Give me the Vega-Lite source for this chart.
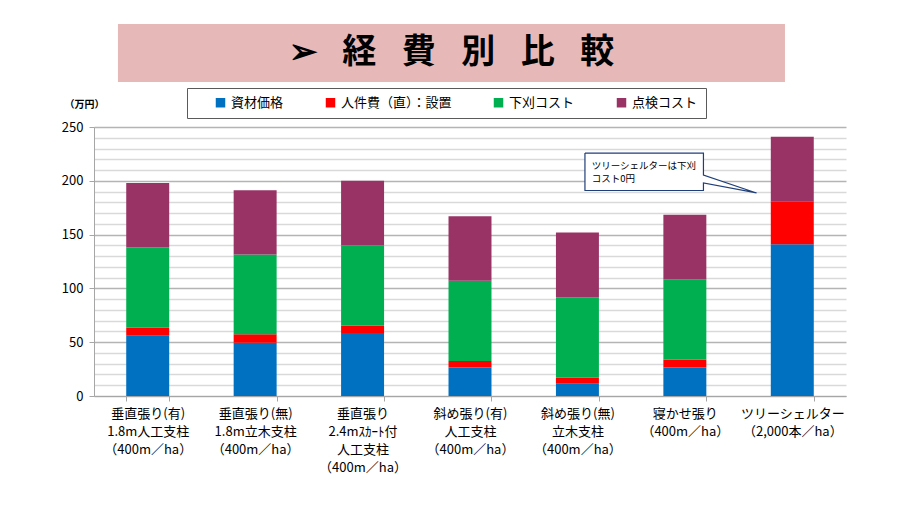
{
  "$schema": "https://vega.github.io/schema/vega-lite/v6.json",
  "background": "white",
  "autosize": {"type": "none"},
  "width": 752,
  "height": 269,
  "padding": {"left": 94, "top": 127, "right": 54, "bottom": 110},
  "config": {"view": {"stroke": null}, "font": "Noto Sans CJK JP"},
  "datasets": {
    "costs": [
      {"cat": "垂直張り(有)|1.8m人工支柱|（400m／ha）", "item": "資材価格", "ord": 1, "value": 56},
      {"cat": "垂直張り(有)|1.8m人工支柱|（400m／ha）", "item": "人件費（直）：設置", "ord": 2, "value": 7.5},
      {"cat": "垂直張り(有)|1.8m人工支柱|（400m／ha）", "item": "下刈コスト", "ord": 3, "value": 74.5},
      {"cat": "垂直張り(有)|1.8m人工支柱|（400m／ha）", "item": "点検コスト", "ord": 4, "value": 60},
      {"cat": "垂直張り(無)|1.8m立木支柱|（400m／ha）", "item": "資材価格", "ord": 1, "value": 49.5},
      {"cat": "垂直張り(無)|1.8m立木支柱|（400m／ha）", "item": "人件費（直）：設置", "ord": 2, "value": 8},
      {"cat": "垂直張り(無)|1.8m立木支柱|（400m／ha）", "item": "下刈コスト", "ord": 3, "value": 74},
      {"cat": "垂直張り(無)|1.8m立木支柱|（400m／ha）", "item": "点検コスト", "ord": 4, "value": 59.7},
      {"cat": "垂直張り|2.4mｽｶｰﾄ付|人工支柱|（400m／ha）", "item": "資材価格", "ord": 1, "value": 58.5},
      {"cat": "垂直張り|2.4mｽｶｰﾄ付|人工支柱|（400m／ha）", "item": "人件費（直）：設置", "ord": 2, "value": 7},
      {"cat": "垂直張り|2.4mｽｶｰﾄ付|人工支柱|（400m／ha）", "item": "下刈コスト", "ord": 3, "value": 74.5},
      {"cat": "垂直張り|2.4mｽｶｰﾄ付|人工支柱|（400m／ha）", "item": "点検コスト", "ord": 4, "value": 60},
      {"cat": "斜め張り(有)|人工支柱|（400m／ha）", "item": "資材価格", "ord": 1, "value": 26.5},
      {"cat": "斜め張り(有)|人工支柱|（400m／ha）", "item": "人件費（直）：設置", "ord": 2, "value": 6},
      {"cat": "斜め張り(有)|人工支柱|（400m／ha）", "item": "下刈コスト", "ord": 3, "value": 74.5},
      {"cat": "斜め張り(有)|人工支柱|（400m／ha）", "item": "点検コスト", "ord": 4, "value": 60},
      {"cat": "斜め張り(無)|立木支柱|（400m／ha）", "item": "資材価格", "ord": 1, "value": 11.5},
      {"cat": "斜め張り(無)|立木支柱|（400m／ha）", "item": "人件費（直）：設置", "ord": 2, "value": 5.5},
      {"cat": "斜め張り(無)|立木支柱|（400m／ha）", "item": "下刈コスト", "ord": 3, "value": 74.5},
      {"cat": "斜め張り(無)|立木支柱|（400m／ha）", "item": "点検コスト", "ord": 4, "value": 60.5},
      {"cat": "寝かせ張り|（400m／ha）", "item": "資材価格", "ord": 1, "value": 26.5},
      {"cat": "寝かせ張り|（400m／ha）", "item": "人件費（直）：設置", "ord": 2, "value": 7.5},
      {"cat": "寝かせ張り|（400m／ha）", "item": "下刈コスト", "ord": 3, "value": 74.5},
      {"cat": "寝かせ張り|（400m／ha）", "item": "点検コスト", "ord": 4, "value": 60},
      {"cat": "ツリーシェルター|（2,000本／ha）", "item": "資材価格", "ord": 1, "value": 141},
      {"cat": "ツリーシェルター|（2,000本／ha）", "item": "人件費（直）：設置", "ord": 2, "value": 40},
      {"cat": "ツリーシェルター|（2,000本／ha）", "item": "下刈コスト", "ord": 3, "value": 0},
      {"cat": "ツリーシェルター|（2,000本／ha）", "item": "点検コスト", "ord": 4, "value": 60}
    ],
    "banner": [
      {"x0": 0.223, "x1": 6.432, "y0": 291.8, "y1": 345.7, "xc": 3.328, "yc": 318.8, "t": "➢\u2002\u2005経\u2002\u2005費\u2002\u2005別\u2002\u2005比\u2002\u2005較"}
    ],
    "callout": [
      {"o": 1, "x": 4.57, "y": 225.8},
      {"o": 2, "x": 5.673, "y": 225.8},
      {"o": 3, "x": 5.673, "y": 205.4},
      {"o": 4, "x": 6.167, "y": 188.7},
      {"o": 5, "x": 5.673, "y": 198.0},
      {"o": 6, "x": 5.673, "y": 191.0},
      {"o": 7, "x": 4.57, "y": 191.0},
      {"o": 8, "x": 4.57, "y": 225.8}
    ],
    "note": [
      {"x": 4.633, "y": 214, "t": "ツリーシェルターは下刈"},
      {"x": 4.633, "y": 201.7, "t": "コスト0円"}
    ]
  },
  "resolve": {"scale": {"x": "independent"}},
  "layer": [
    {
      "data": {"name": "costs"},
      "mark": {"type": "bar"},
      "encoding": {
        "x": {
          "field": "cat", "type": "nominal", "sort": null,
          "scale": {"paddingInner": 0.6, "paddingOuter": 0.3},
          "axis": {
            "title": null, "labelExpr": "split(datum.label, '|')", "labelAngle": 0,
            "labelFontSize": 13, "labelLineHeight": 18, "labelColor": "black",
            "labelPadding": 6, "labelLimit": 0, "domainColor": "#a6a6a6",
            "tickColor": "#a6a6a6", "tickBand": "extent", "tickSize": 5, "grid": false
          }
        },
        "y": {
          "field": "value", "type": "quantitative", "stack": "zero",
          "scale": {"domain": [0, 250], "nice": false},
          "axis": {
            "title": "（万円）", "titleAngle": 0, "titleX": -10, "titleY": -23,
            "titleAlign": "center", "titleBaseline": "middle", "titleFontSize": 10,
            "titleFontWeight": "bold", "titleColor": "black",
            "values": [0, 10, 20, 30, 40, 50, 60, 70, 80, 90, 100, 110, 120, 130, 140, 150, 160, 170, 180, 190, 200, 210, 220, 230, 240, 250],
            "tickCount": 30,
            "labelExpr": "datum.value % 50 == 0 ? datum.label : ''",
            "labelOverlap": false,
            "labelFontSize": 13, "labelColor": "black", "labelPadding": 6,
            "domainColor": "#a6a6a6", "tickSize": 5,
            "tickColor": {"condition": {"test": "datum.value % 50 == 0", "value": "#a6a6a6"}, "value": "transparent"},
            "gridColor": {"condition": {"test": "datum.value % 50 == 0", "value": "#b4b4b4"}, "value": "#d9d9d9"},
            "gridWidth": 1.3
          }
        },
        "color": {
          "field": "item", "type": "nominal",
          "scale": {"domain": ["資材価格", "人件費（直）：設置", "下刈コスト", "点検コスト"], "range": ["#0070C0", "#FF0000", "#00B050", "#993366"]},
          "legend": {
            "orient": "none", "legendX": 93, "legendY": -39, "direction": "horizontal", "columns": 4,
            "strokeColor": "#5a5a5a", "fillColor": "white", "padding": 8,
            "symbolType": "square", "symbolSize": 90, "symbolStrokeWidth": 0,
            "labelFontSize": 13, "labelColor": "black", "labelLimit": 0, "columnPadding": 40,
            "labelExpr": "datum.label == '点検コスト' ? datum.label + '\u3000\u3000' : datum.label",
            "title": "\u3000", "titleOrient": "left", "titleFontSize": 13, "titlePadding": 19
          }
        },
        "order": {"field": "ord", "type": "quantitative"}
      }
    },
    {
      "data": {"name": "banner"},
      "mark": {"type": "rect", "fill": "#E6B9B8", "clip": false},
      "encoding": {
        "x": {"field": "x0", "type": "quantitative", "scale": {"domain": [0, 7], "nice": false, "zero": false}, "axis": null},
        "x2": {"field": "x1"},
        "y": {"field": "y0", "type": "quantitative"},
        "y2": {"field": "y1"}
      }
    },
    {
      "data": {"name": "banner"},
      "mark": {"type": "text", "fontSize": 34, "fontWeight": "bold", "color": "black", "baseline": "middle", "align": "center", "clip": false},
      "encoding": {
        "x": {"field": "xc", "type": "quantitative", "scale": {"domain": [0, 7], "nice": false, "zero": false}, "axis": null},
        "y": {"field": "yc", "type": "quantitative"},
        "text": {"field": "t"}
      }
    },
    {
      "data": {"name": "callout"},
      "mark": {"type": "line", "stroke": "#1F3F7A", "strokeWidth": 1.2, "fill": "white", "interpolate": "linear"},
      "encoding": {
        "x": {"field": "x", "type": "quantitative", "scale": {"domain": [0, 7], "nice": false, "zero": false}, "axis": null},
        "y": {"field": "y", "type": "quantitative"},
        "order": {"field": "o", "type": "quantitative"}
      }
    },
    {
      "data": {"name": "note"},
      "mark": {"type": "text", "align": "left", "baseline": "middle", "fontSize": 9.5, "color": "black"},
      "encoding": {
        "x": {"field": "x", "type": "quantitative", "scale": {"domain": [0, 7], "nice": false, "zero": false}, "axis": null},
        "y": {"field": "y", "type": "quantitative"},
        "text": {"field": "t"}
      }
    }
  ]
}
